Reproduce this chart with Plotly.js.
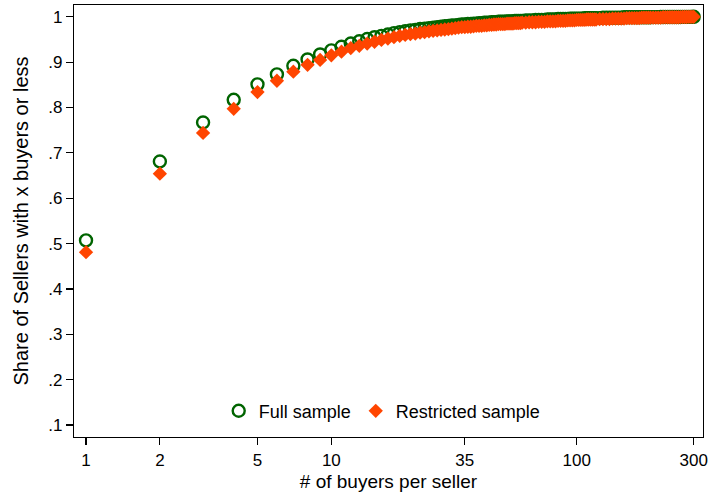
<!DOCTYPE html>
<html>
<head>
<meta charset="utf-8">
<script src="https://cdn.plot.ly/plotly-3.0.1.min.js"></script>
<style>html,body{margin:0;padding:0;background:#fff;}#chart{width:709px;height:498px;}</style>
</head>
<body>
<div id="chart"></div>
<script>
// # of buyers per seller
const buyers = [1,2,3,4,5,6,7,8,9,10,11,12,13,14,15,16,17,18,19,20,21,22,23,24,25,26,27,28,29,30,31,32,33,34,35,36,37,38,39,40,
  41,42,43,44,45,46,47,48,49,50,51,52,53,54,55,56,57,58,59,60,
  62,64,66,68,70,72,74,76,78,80,82,84,86,88,90,92,94,96,98,100,102,104,106,108,110,112,114,116,118,120,
  124,128,132,136,140,144,148,152,156,160,164,168,172,176,180,184,188,192,196,200,
  205,210,215,220,225,230,235,240,245,250,255,260,265,270,275,280,285,290,295,300];
// Share of sellers with x buyers or less - full sample
const fullShare = [.507,.681,.767,.817,.851,.873,.892,.906,.917,.926,.934,.941,.946,.951,.955,.958,.961,.964,.966,.968,.970,.971,.973,.974,.975,.976,.977,.978,.979,.980,.981,.981,.982,.983,.983,.984,.984,.985,.985,.986,
  .986,.987,.987,.987,.988,.988,.988,.989,.989,.989,.989,.990,.990,.990,.990,.991,.991,.991,.991,.991,
  .992,.992,.992,.993,.993,.993,.993,.994,.994,.994,.994,.995,.995,.995,.995,.995,.996,.996,.996,.996,.996,.996,.996,.997,.997,.997,.997,.997,.997,.997,
  .997,.998,.998,.998,.998,.998,.998,.998,.999,.999,.999,.999,.999,.999,.999,.999,.999,.999,.999,.999,
  .9992,.9992,.9993,.9994,.9994,.9995,.9995,.9995,.9996,.9996,.9997,.9997,.9997,.9998,.9998,.9998,.9999,.9999,.9999,1];
// Share of sellers with x buyers or less - restricted sample
const restrShare = [.481,.654,.744,.797,.834,.859,.879,.894,.905,.915,.923,.931,.936,.941,.945,.949,.952,.955,.958,.960,.962,.963,.965,.966,.968,.969,.970,.971,.972,.973,.974,.975,.976,.977,.977,.978,.978,.979,.980,.980,
  .980,.981,.981,.982,.982,.983,.983,.984,.984,.984,.984,.985,.985,.985,.985,.986,.986,.986,.986,.987,
  .987,.988,.988,.988,.989,.989,.989,.990,.990,.990,.990,.991,.991,.991,.991,.992,.992,.992,.992,.993,.993,.993,.993,.993,.994,.994,.994,.994,.994,.994,
  .995,.995,.995,.995,.996,.996,.996,.996,.996,.997,.997,.997,.997,.997,.997,.998,.998,.998,.998,.998,
  .998,.998,.998,.998,.999,.999,.999,.999,.999,.999,.999,.999,.9993,.9995,.9995,.9995,.9997,.9998,.9999,1];
const xTicks = [1,2,5,10,35,100,300];
const xTickText = ['1','2','5','10','35','100','300'];
const yTicks = [.1,.2,.3,.4,.5,.6,.7,.8,.9,1];
const yTickText = ['.1','.2','.3','.4','.5','.6','.7','.8','.9','1'];

const FONT = '"Liberation Sans", Arial, sans-serif';
const traces = [
  {x: buyers, y: fullShare, type: 'scatter', mode: 'markers', name: 'Full sample',
   marker: {symbol: 'circle-open', size: 12, color: '#006400', line: {width: 2.4, color: '#006400'}}},
  {x: buyers, y: restrShare, type: 'scatter', mode: 'markers', name: 'Restricted sample',
   marker: {symbol: 'diamond', size: 11, color: '#FF4500', line: {width: 0}}}
];
const layout = {
  width: 709, height: 498,
  margin: {l: 74, r: 6, t: 5, b: 61},
  paper_bgcolor: '#fff', plot_bgcolor: '#fff',
  font: {family: FONT, size: 17, color: '#000'},
  showlegend: true,
  legend: {orientation: 'h', x: 0.49, xanchor: 'center', y: 0.06, yanchor: 'middle',
    font: {family: FONT, size: 18, color: '#000'}, bgcolor: 'rgba(0,0,0,0)', itemwidth: 30, tracegroupgap: 0},
  xaxis: {type: 'log', range: [-0.049, 2.515], tickvals: xTicks, ticktext: xTickText,
    ticks: 'outside', ticklen: 7, tickwidth: 1.2, tickcolor: '#000', showgrid: false, zeroline: false,
    showline: true, linecolor: '#000', linewidth: 1.2, mirror: true,
    tickfont: {family: FONT, size: 17, color: '#000'},
    title: {text: '# of buyers per seller', font: {family: FONT, size: 19, color: '#000'}, standoff: 6}},
  yaxis: {range: [0.0735, 1.026], tickvals: yTicks, ticktext: yTickText,
    ticks: 'outside', ticklen: 7, tickwidth: 1.2, tickcolor: '#000', showgrid: false, zeroline: false,
    showline: true, linecolor: '#000', linewidth: 1.2, mirror: true,
    tickfont: {family: FONT, size: 17, color: '#000'},
    title: {text: 'Share of Sellers with x buyers or less', font: {family: FONT, size: 20, color: '#000'}, standoff: 14}}
};
Plotly.newPlot('chart', traces, layout, {displayModeBar: false, staticPlot: true});
</script>
</body>
</html>
